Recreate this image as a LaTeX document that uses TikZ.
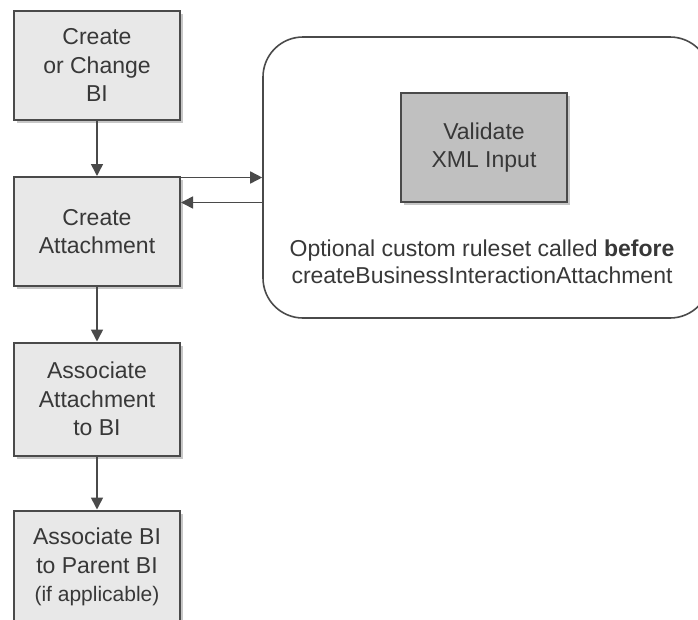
\documentclass[tikz,border=0pt]{standalone}
\usepackage{fontspec}
\setmainfont{Liberation Sans}
\usetikzlibrary{arrows.meta,shadows}
\definecolor{ink}{HTML}{383838}
\definecolor{edge}{HTML}{4A4A4A}
\definecolor{light}{HTML}{E8E8E8}
\definecolor{mid}{HTML}{C0C0C0}
\begin{document}
\begin{tikzpicture}[x=1pt,y=-1pt,every node/.style={font=\fontsize{23}{28.5}\selectfont,text=ink,align=center},
	stepbox/.style={draw=edge,line width=2pt,fill=light,minimum width=166pt,minimum height=109pt,inner sep=0pt,
		drop shadow={shadow xshift=3pt,shadow yshift=-3pt,fill=gray!55,opacity=.8}},
	arr/.style={draw=edge,line width=1.6pt,-{Triangle[length=12pt,width=12pt]}}]
		\useasboundingbox(0,0)rectangle(698,619);
		\coordinate(C1)at(97,65);
		\coordinate(C2)at(97,231.5);
		\coordinate(C3)at(97,399);
		\coordinate(C4)at(97,567);
		\node[stepbox](create)at(C1){Create\\or Change\\BI};
		\node[stepbox](attach)at(C2){Create\\Attachment};
		\node[stepbox,minimum height=113pt](assoc)at(C3){Associate\\Attachment\\to BI};
		\node[stepbox,minimum height=113pt](parent)at(C4){Associate BI\\to Parent BI\\{\fontsize{21}{25}\selectfont(if applicable)}};
		\node[draw=edge,line width=1.6pt,rounded corners=40pt,minimum width=447pt,minimum height=281pt](ruleset)at(486.5,177.5){};
		\node[stepbox,fill=mid](validate)at(484,147.5){Validate\\XML Input};
		\node[font=\fontsize{23}{27}\selectfont](note)at(482,261.5){Optional custom ruleset called \textbf{before}\\createBusinessInteractionAttachment};
		\foreach\a/\b in{create/attach,attach/assoc,assoc/parent}{\draw[arr](\a)--(\b);}
		\coordinate(in)at(ruleset.west);
		\coordinate(out)at([yshift=-25pt]ruleset.west);
		\draw[arr](attach.east|-in)--(in);
		\draw[arr](out)--(attach.east|-out);
		\end{tikzpicture}
\end{document}
